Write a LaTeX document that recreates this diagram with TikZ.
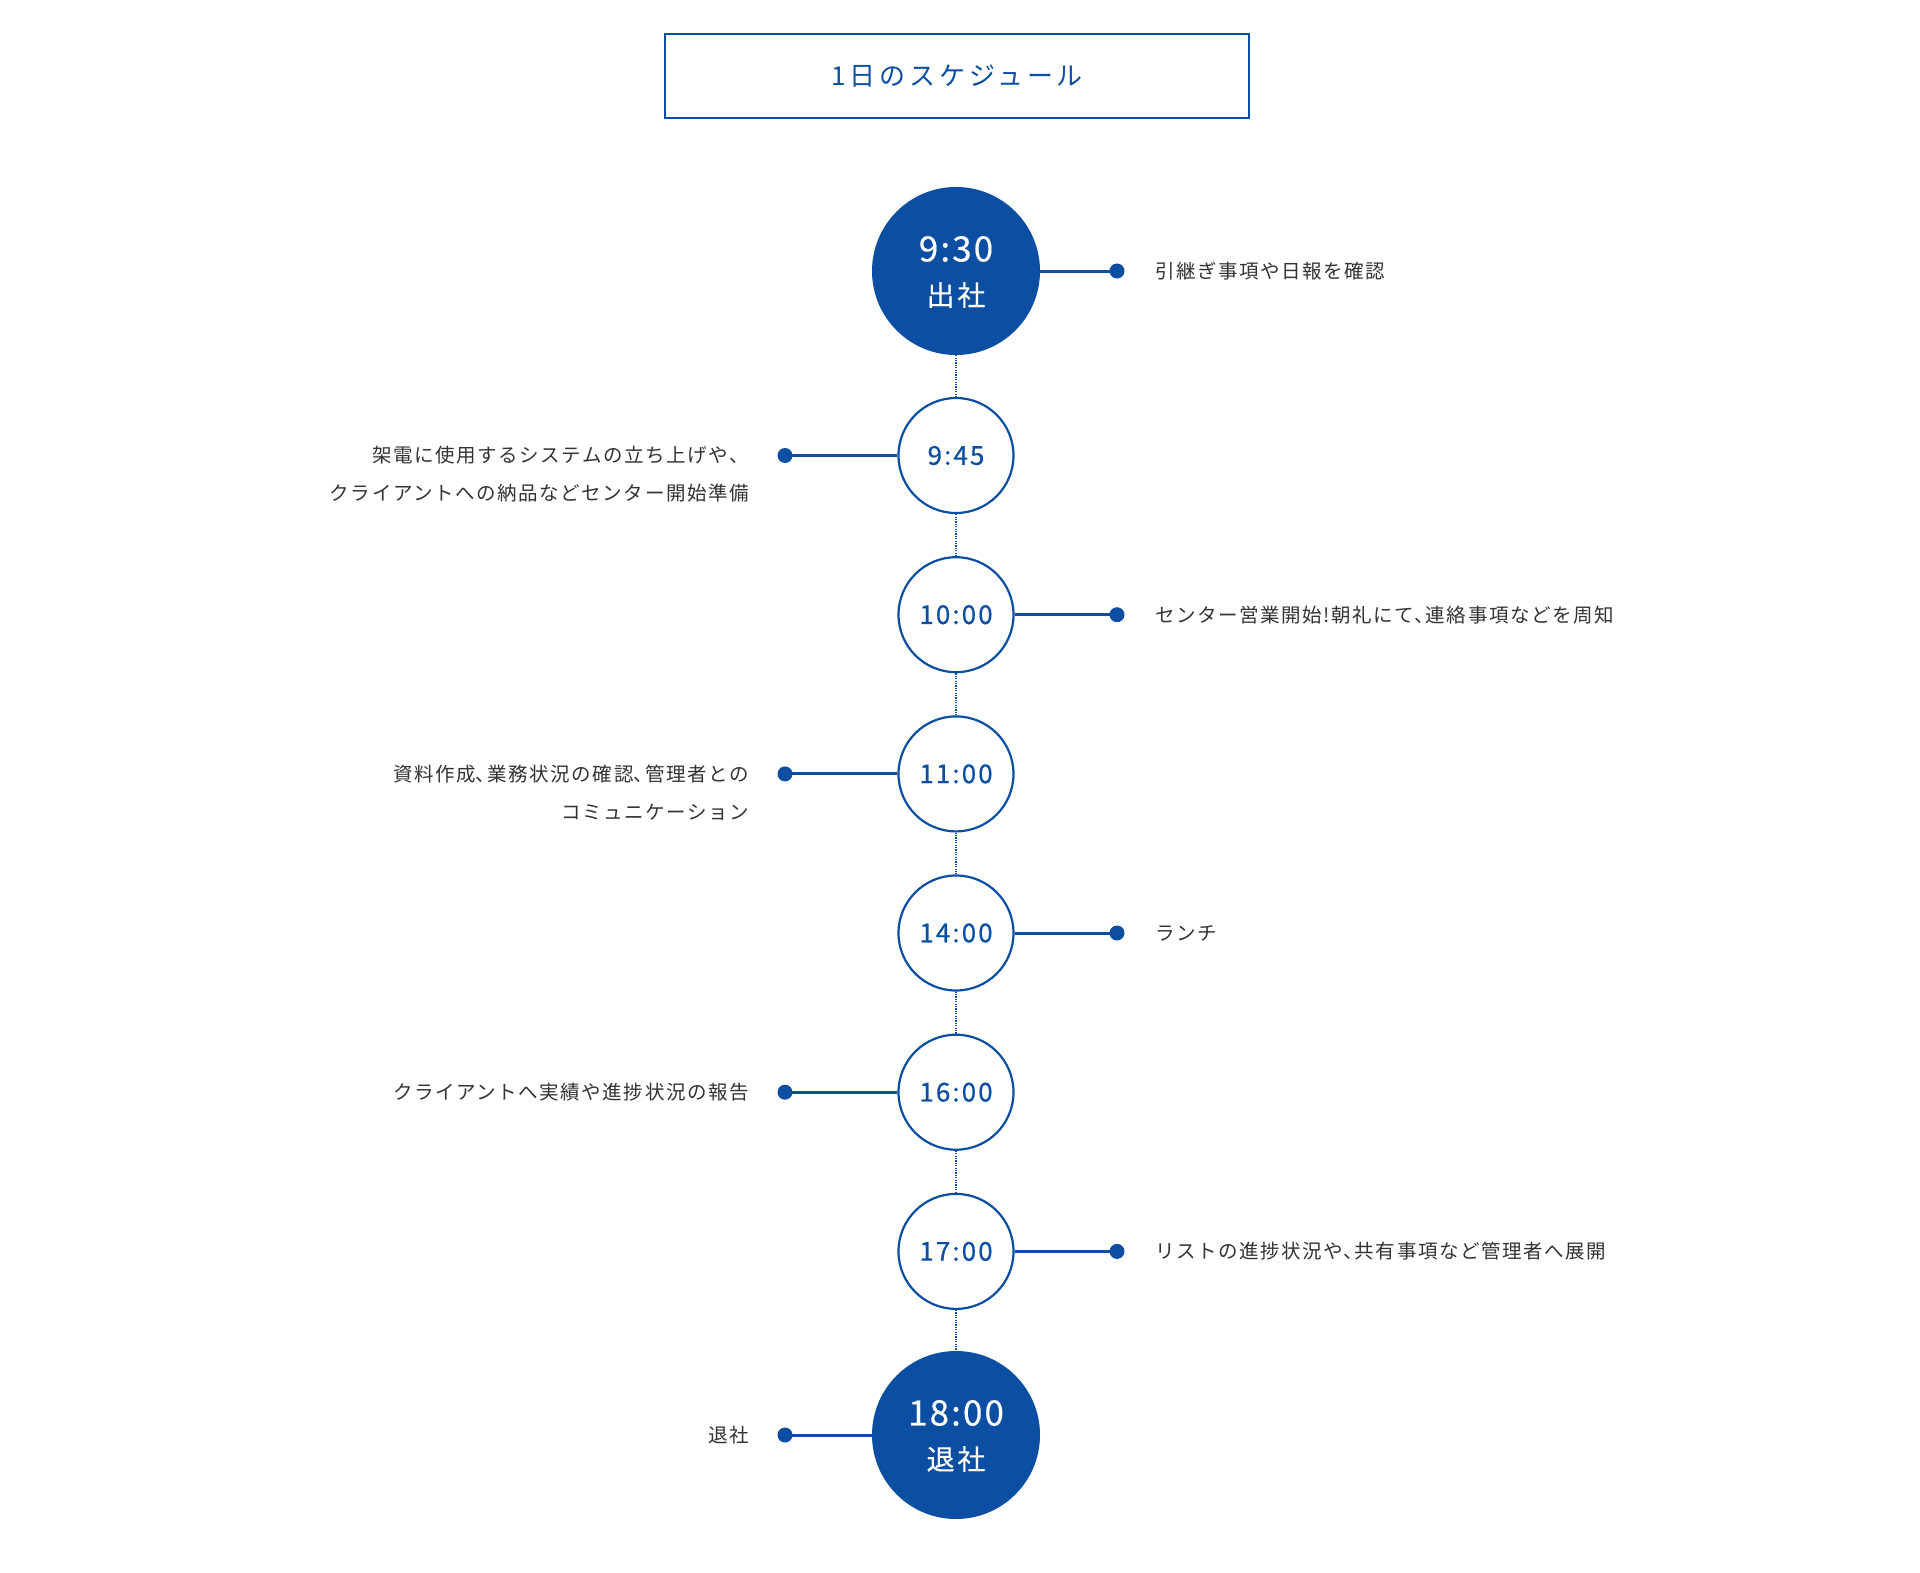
\documentclass[tikz,border=0pt]{standalone}
\usepackage{fontspec}
\setmainfont{Noto Sans CJK JP}
\newfontfamily\jpbody[LetterSpace=8]{Noto Sans CJK JP}
\newfontfamily\jptitle[LetterSpace=15]{Noto Sans CJK JP}
\newfontfamily\jpnum[LetterSpace=8,FakeBold=0.4]{Noto Sans CJK JP}
\newfontfamily\jpbig[LetterSpace=6,FakeBold=0.4]{Noto Sans CJK JP}
\newfontfamily\jpkanji[LetterSpace=10,FakeBold=0.3]{Noto Sans CJK JP}
\newcommand\hcm{\makebox[0.6em][l]{、}}
\usetikzlibrary{calc}
\definecolor{brand}{HTML}{0B4EA2}
\definecolor{txt}{HTML}{333333}
\begin{document}
\begin{tikzpicture}[x=1pt,y=-1pt,
  smallc/.style={circle, draw=brand, line width=2.2pt, fill=white, minimum size=115pt, inner sep=0pt, text=brand, font=\jpnum\fontsize{26}{30}\selectfont},
  bigc/.style={circle, fill=brand, minimum size=168pt, inner sep=0pt},
  bignum/.style={text=white, inner sep=0pt, font=\jpbig\fontsize{35}{40}\selectfont},
  bigword/.style={text=white, inner sep=0pt, font=\jpkanji\fontsize{28}{32}\selectfont},
  dotc/.style={circle, fill=brand, minimum size=15pt, inner sep=0pt},
  conn/.style={draw=brand, line width=3pt},
  vline/.style={draw=brand, line width=1.6pt, dash pattern=on 1.2pt off 1.2pt},
  lbl/.style={text=txt, inner sep=0pt, font=\jpbody\fontsize{19.5}{24}\selectfont},
]
\useasboundingbox (0,0) rectangle (1920,1573);
\fill[white] (0,0) rectangle (1920,1573);

% title
\node[draw=brand, line width=2pt, minimum width=584pt, minimum height=84pt, inner sep=0pt,
      text=brand, font=\jptitle\fontsize{26}{30}\selectfont] (title) at (957,76) {1日のスケジュール};

% circles
\node[bigc] (c0) at (956,271) {};
\node[bignum] (c0a) at ($(c0)+(0,-22)$) {9:30};
\node[bigword] (c0b) at ($(c0)+(0,24)$) {出社};
\node[smallc] (c1) at (956,455.5) {9:45};
\node[smallc] (c2) at (956,614.7) {10:00};
\node[smallc] (c3) at (956,773.9) {11:00};
\node[smallc] (c4) at (956,933) {14:00};
\node[smallc] (c5) at (956,1092.2) {16:00};
\node[smallc] (c6) at (956,1251.4) {17:00};
\node[bigc] (c7) at (956,1435) {};
\node[bignum] (c7a) at ($(c7)+(0,-22)$) {18:00};
\node[bigword] (c7b) at ($(c7)+(0,24)$) {退社};

% dotted spine
\draw[vline] (c0.south) -- (c1.north);
\draw[vline] (c1.south) -- (c2.north);
\draw[vline] (c2.south) -- (c3.north);
\draw[vline] (c3.south) -- (c4.north);
\draw[vline] (c4.south) -- (c5.north);
\draw[vline] (c5.south) -- (c6.north);
\draw[vline] (c6.south) -- (c7.north);

% dots
\node[dotc] (d0) at (1117,271) {};
\node[dotc] (d1) at (785,455.5) {};
\node[dotc] (d2) at (1117,614.7) {};
\node[dotc] (d3) at (785,773.9) {};
\node[dotc] (d4) at (1117,933) {};
\node[dotc] (d5) at (785,1092.2) {};
\node[dotc] (d6) at (1117,1251.4) {};
\node[dotc] (d7) at (785,1435) {};

% connectors
\draw[conn] (c0.east) -- (d0.center);
\draw[conn] (d1.center) -- (c1.west);
\draw[conn] (c2.east) -- (d2.center);
\draw[conn] (d3.center) -- (c3.west);
\draw[conn] (c4.east) -- (d4.center);
\draw[conn] (d5.center) -- (c5.west);
\draw[conn] (c6.east) -- (d6.center);
\draw[conn] (d7.center) -- (c7.west);

% labels
\node[lbl, anchor=west] (t0) at (1155,271) {引継ぎ事項や日報を確認};
\node[lbl, anchor=east] (t1a) at (749,455.5) {架電に使用するシステムの立ち上げや、};
\node[lbl, anchor=base east] (t1b) at ($(t1a.base east)+(0,38)$) {クライアントへの納品などセンター開始準備};
\node[lbl, anchor=west] (t2) at (1155,614.7) {センター営業開始!朝礼にて\hcm 連絡事項などを周知};
\node[lbl, anchor=east] (t3a) at (749,773.9) {資料作成\hcm 業務状況の確認\hcm 管理者との};
\node[lbl, anchor=base east] (t3b) at ($(t3a.base east)+(0,38)$) {コミュニケーション};
\node[lbl, anchor=west] (t4) at (1155,933) {ランチ};
\node[lbl, anchor=east] (t5) at (749,1092.2) {クライアントへ実績や進捗状況の報告};
\node[lbl, anchor=west] (t6) at (1155,1251.4) {リストの進捗状況や\hcm 共有事項など管理者へ展開};
\node[lbl, anchor=east] (t7) at (749,1435) {退社};
\end{tikzpicture}
\end{document}
